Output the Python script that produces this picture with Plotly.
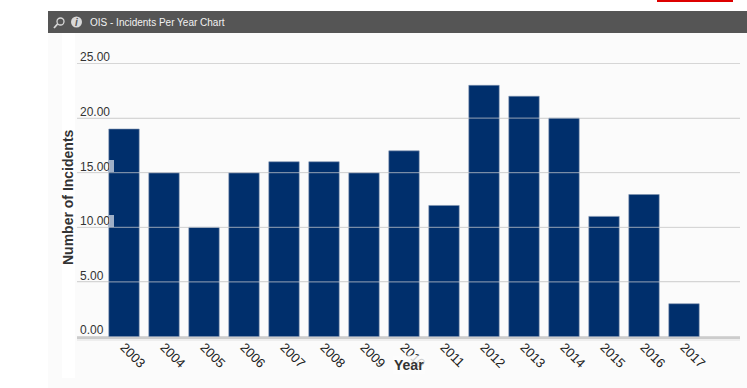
import plotly.graph_objects as go

years = ["2003","2004","2005","2006","2007","2008","2009","2010","2011","2012","2013","2014","2015","2016","2017"]
incidents = [19,15,10,15,16,16,15,17,12,23,22,20,11,13,3]
y_ticks = [0,5,10,15,20,25]
y_tick_labels = ["0.00","5.00","10.00","15.00","20.00","25.00"]
title_text = "OIS - Incidents Per Year Chart"
W, H = 747, 388
FONT = "Liberation Sans, Arial, sans-serif"
Y_TOP = 27
Y_BOTTOM = -1

def px(x): return x / W
def py(y): return 1 - y / H
def rect(x0, y0, x1, y1, color, layer="below"):
    return dict(type="rect", xref="paper", yref="paper", x0=px(x0), x1=px(x1), y0=py(y1), y1=py(y0),
                fillcolor=color, line_width=0, layer=layer)

fig = go.Figure(go.Bar(x=years, y=incidents, marker=dict(color="#002f6c", line=dict(color="#8093b0", width=0.6)),
                       width=0.76, hoverinfo="x+y"))
shapes = [
    rect(48, 33, 747, 388, "#fbfbfb"),
    rect(62, 33, 75, 378, "#ffffff"),
    rect(48, 11, 747, 33, "#555555"),
    rect(657, 0, 733, 2, "#dd0000"),
    rect(77, 338, 740, 341, "#eeeeee"),
    rect(109, 160, 114, 172, "rgba(255,255,255,0.62)", "above"),
    rect(109, 215, 114, 227, "rgba(255,255,255,0.62)", "above"),
    dict(type="circle", xref="paper", yref="paper", x0=px(71), x1=px(82), y0=py(27.5), y1=py(16.5),
         fillcolor="#d8d8d8", line_width=0, layer="below"),
    dict(type="circle", xref="paper", yref="paper", x0=px(57), x1=px(64), y0=py(25), y1=py(18),
         fillcolor="rgba(0,0,0,0)", line=dict(color="#d8d8d8", width=1.3), layer="below"),
    dict(type="line", xref="paper", yref="paper", x0=px(57.5), x1=px(54), y0=py(24), y1=py(28),
         line=dict(color="#d8d8d8", width=1.8), layer="below"),
]
# gridlines show through the bars in the reference
for tick in y_ticks[1:]:
    shapes.append(dict(type="line", xref="x domain", yref="y", x0=0, x1=1, y0=tick, y1=tick,
                       line=dict(color="rgba(214,214,214,0.7)", width=1), layer="above"))
annotations = [
    dict(x=px(87.5), y=py(22), xref="paper", yref="paper", text=title_text, showarrow=False, xanchor="left",
         yanchor="middle", font=dict(family=FONT, size=10, color="#f2f2f2")),
    dict(x=px(76.5), y=py(22), xref="paper", yref="paper", text="<b><i>i</i></b>", showarrow=False,
         xanchor="center", yanchor="middle", font=dict(family=FONT, size=10, color="#555555")),
    dict(x=px(409), y=py(365), xref="paper", yref="paper", text="<b>Year</b>", showarrow=False,
         xanchor="center", yanchor="middle", bgcolor="rgba(252,252,252,0.78)", borderpad=1,
         font=dict(family=FONT, size=14, color="#333333")),
    dict(x=px(68), y=py(197), xref="paper", yref="paper", text="<b>Number of Incidents</b>", showarrow=False,
         xanchor="center", yanchor="middle", textangle=-90,
         font=dict(family=FONT, size=14, color="#333333")),
]
unit = 273 / 25
top_px = 336.5 - Y_TOP * unit
bottom_px = 336.5 - Y_BOTTOM * unit
fig.update_layout(
    width=W, height=H, margin=dict(l=0, r=0, t=0, b=0), autosize=False,
    paper_bgcolor="#ffffff", plot_bgcolor="rgba(0,0,0,0)", showlegend=False,
    shapes=shapes, annotations=annotations, bargap=0.24,
    font=dict(family=FONT, color="#333333"),
    xaxis=dict(domain=[px(77), px(740)], type="category", range=[-1.175, 15.4], tickangle=45,
               anchor="free", position=py(337.5),
               ticks="", showgrid=False, showline=True, linecolor="#cccccc", linewidth=2,
               tickfont=dict(size=13, color="#222222"), automargin=False, ticklabelstandoff=-4),
    yaxis=dict(domain=[py(bottom_px), py(top_px)], range=[Y_BOTTOM, Y_TOP], tickmode="array", tickvals=y_ticks, ticktext=y_tick_labels,
               ticklabelposition="inside top", ticklabelshift=2, ticks="", showgrid=True, gridcolor="#d6d6d6", gridwidth=1,
               zeroline=False, showline=False, automargin=False, tickfont=dict(size=12, color="#333333")),
)
fig.write_html("out.html", config=dict(displayModeBar=False),
               post_script="document.body.style.margin='0';document.body.style.overflow='hidden';")
